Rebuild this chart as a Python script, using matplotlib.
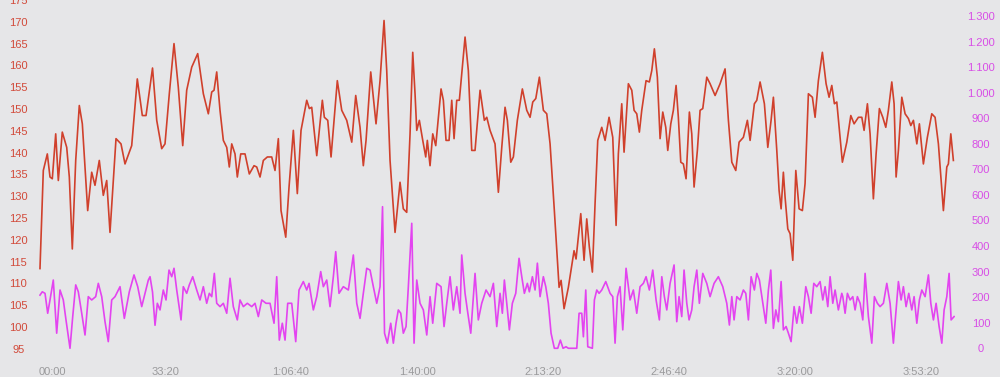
import numpy as np
import matplotlib
matplotlib.use("Agg")
import matplotlib.pyplot as plt
from matplotlib import rcParams

rcParams['font.family'] = ['Liberation Sans', 'DejaVu Sans']

# heart rate (bpm) against elapsed time (minutes)
hr_min = [0.26, 1.14, 2.20, 2.91, 3.52, 4.42, 5.11, 6.16, 7.33, 8.02, 8.81, 9.71, 10.66, 11.46,
          12.88, 13.94, 14.81, 15.95, 17.01, 17.91, 18.78, 20.37, 21.69, 22.75, 24.52, 26.00,
          27.33, 28.31, 30.03, 31.14, 32.46, 33.33, 34.47, 35.71, 36.85, 38.02, 39.07, 40.40,
          41.98, 43.47, 44.79, 45.69, 46.30, 47.01, 47.88, 48.76, 49.66, 50.34, 50.98, 51.85,
          52.46, 53.36, 54.50, 55.63, 56.88, 57.59, 58.47, 59.34, 60.40, 61.56, 62.43, 63.31,
          64.02, 65.27, 66.14, 67.28, 68.33, 69.31, 70.82, 71.51, 72.14, 73.47, 74.95, 75.48,
          76.38, 77.25, 78.91, 80.08, 81.40, 82.73, 83.78, 84.92, 85.79, 86.51, 87.75, 89.15,
          90.21, 91.27, 91.98, 92.86, 94.18, 95.50, 96.37, 97.27, 98.15, 98.86, 99.47, 99.92,
          100.61, 101.51, 102.30, 102.72, 103.44, 104.15, 104.95, 106.35, 106.96, 107.67,
          108.47, 109.18, 109.79, 110.50, 111.19, 112.70, 113.57, 114.47, 115.34, 116.67,
          117.80, 118.44, 119.31, 120.63, 121.51, 122.41, 123.28, 123.89, 124.79, 125.48,
          126.53, 127.86, 129.02, 129.90, 130.61, 131.41, 132.36, 133.42, 134.31, 135.19,
          136.32, 137.57, 138.10, 138.89, 140.03, 141.53, 142.06, 143.31, 144.18, 144.89,
          145.58, 146.38, 147.09, 147.80, 148.86, 149.74, 150.79, 151.77, 152.65, 153.25,
          154.15, 154.76, 155.90, 156.80, 157.41, 158.12, 158.81, 159.44, 160.58, 161.45,
          162.09, 162.78, 163.57, 164.29, 165.00, 165.79, 166.32, 167.12, 167.80, 168.52,
          169.12, 169.76, 170.45, 171.16, 172.04, 172.67, 173.28, 174.15, 174.87, 175.58,
          176.64, 177.51, 178.84, 180.16, 181.48, 182.36, 183.26, 184.31, 185.19, 186.32,
          187.38, 188.10, 189.23, 189.87, 190.74, 191.88, 192.78, 193.65, 194.26, 195.16,
          195.77, 196.30, 196.90, 197.35, 198.07, 198.68, 199.39, 200.19, 201.06, 201.93,
          202.64, 203.52, 204.58, 205.29, 206.16, 207.22, 208.20, 208.99, 209.71, 210.40,
          211.03, 212.51, 213.68, 214.74, 215.61, 216.75, 217.65, 218.25, 219.13, 219.84,
          220.71, 221.43, 222.30, 223.20, 223.99, 224.68, 225.58, 226.19, 226.72, 227.33,
          228.23, 229.10, 229.98, 230.61, 231.30, 232.20, 232.88, 233.94, 234.99, 236.16,
          237.03, 237.91, 239.23, 240.13, 240.55, 241.19, 241.87]
hr_bpm = [113.4, 135.9, 139.7, 134.4, 134.0, 144.3, 133.6, 144.7, 141.2, 134.4, 117.9, 138.2, 150.8, 146.6,
          126.7, 135.5, 132.5, 138.2, 130.2, 133.6, 121.7, 143.2, 142.0, 137.4, 141.6, 156.9,
          148.5, 148.5, 159.4, 147.4, 140.9, 142.0, 153.5, 165.0, 155.0, 141.6, 154.3, 159.6,
          162.7, 153.5, 148.9, 153.9, 154.3, 158.5, 149.7, 142.8, 141.2, 136.7, 142.0, 139.7,
          134.4, 139.7, 139.7, 135.1, 137.0, 136.7, 134.4, 138.2, 139.0, 139.0, 135.9, 143.2,
          126.7, 120.6, 132.1, 145.1, 130.6, 145.1, 152.0, 150.1, 150.4, 139.3, 152.0, 148.1,
          147.4, 139.0, 156.5, 149.7, 147.4, 142.4, 153.1, 145.8, 137.0, 142.8, 158.5, 146.6,
          156.5, 170.3, 158.8, 138.2, 121.7, 133.2, 127.1, 126.3, 144.3, 163.0, 153.5, 145.1,
          147.4, 142.8, 139.0, 142.8, 137.0, 144.3, 141.6, 154.6, 152.0, 142.8,
          142.8, 152.0, 143.2, 152.0, 152.0, 166.5, 158.8, 140.5, 140.5, 154.3,
          147.4, 148.1, 145.1, 142.0, 130.9, 141.2, 150.4, 147.4, 137.8, 139.0,
          147.4, 154.6, 149.7, 148.1, 151.6, 152.4, 157.3, 149.7, 148.9, 142.0,
          126.7, 109.1, 110.7, 104.2, 109.1, 117.5, 115.6, 126.0, 115.3, 124.8,
          118.3, 112.6, 128.3, 142.8, 145.8, 142.8, 148.1, 143.5, 123.3, 139.7,
          151.2, 140.1, 155.8, 154.3, 149.7, 148.9, 144.7, 149.7, 156.5, 156.2,
          158.8, 163.8, 157.3, 143.2, 149.3, 145.8, 140.5, 146.6, 149.7, 155.4,
          148.1, 137.8, 137.4, 134.0, 149.3, 144.3, 132.1, 140.5, 149.7, 150.1,
          157.3, 155.8, 153.1, 155.8, 159.2, 147.4, 137.8, 135.9, 142.4, 143.5,
          147.4, 142.8, 151.2, 152.0, 156.2, 151.2, 141.2, 147.4, 152.7, 140.5,
          131.3, 127.1, 135.5, 129.8, 122.5, 121.4, 115.3, 135.9, 127.1, 126.7,
          132.9, 153.5, 152.7, 148.1, 156.5, 163.0, 155.8, 152.7, 155.4, 151.2,
          151.6, 137.8, 142.4, 148.5, 146.6, 148.1, 148.1, 145.1, 151.2, 144.3,
          129.4, 139.7, 150.1, 148.1, 145.8, 149.7, 156.2, 151.2, 134.4, 140.5,
          152.7, 148.9, 147.8, 146.2, 147.4, 142.0, 146.6, 137.4, 143.5, 148.9,
          148.1, 142.0, 126.7, 136.7, 137.4, 144.3, 138.2]

# power (W) against elapsed time (minutes)
pw_min = [0.26, 0.87, 1.59, 2.30, 2.91, 3.78, 4.68, 5.56, 6.43, 7.14, 8.20, 8.92, 9.71, 10.40,
          11.30, 12.17, 13.04, 13.94, 15.00, 15.69, 16.59, 17.46, 18.33, 19.23, 20.11, 21.43,
          22.57, 23.89, 25.13, 26.11, 27.17, 28.92, 29.37, 30.03, 30.69, 31.30, 32.01, 32.88,
          33.60, 34.39, 35.11, 35.71, 36.43, 37.57, 38.17, 39.07, 39.76, 40.66, 41.72, 42.59,
          43.47, 44.36, 45.05, 45.69, 46.38, 47.01, 47.88, 48.76, 49.66, 50.53, 51.40, 52.46,
          53.17, 54.05, 55.11, 56.27, 57.14, 58.02, 58.92, 60.05, 61.11, 62.17, 62.88, 63.57,
          64.36, 65.08, 65.79, 66.85, 67.91, 68.78, 69.92, 70.82, 71.43, 72.57, 73.47, 74.52,
          75.21, 76.11, 76.98, 77.86, 78.49, 79.36, 80.50, 81.83, 83.15, 84.05, 84.92, 85.79,
          86.69, 87.57, 88.44, 89.34, 90.21, 90.87, 91.40, 92.14, 93.04, 93.73, 94.44, 95.05,
          95.69, 96.37, 97.09, 97.70, 98.60, 99.21, 99.92, 100.79, 101.67, 102.57, 103.44,
          104.15, 105.21, 106.35, 107.14, 107.86, 108.73, 109.60, 110.50, 111.37, 111.82,
          112.70, 113.31, 114.21, 115.34, 116.21, 117.11, 118.25, 119.31, 120.19, 121.08,
          121.96, 122.57, 123.10, 123.73, 124.42, 125.21, 126.11, 126.98, 127.70, 128.39,
          129.18, 129.71, 130.51, 131.22, 131.83, 132.54, 133.41, 134.05, 134.73, 135.45,
          136.32, 137.22, 137.91, 138.62, 139.42, 140.03, 142.25, 142.86, 143.57, 144.00,
          144.63, 145.16, 146.38, 146.91, 147.54, 148.15, 148.86, 149.92, 151.06, 151.77,
          152.38, 153.00, 153.70, 154.42, 155.29, 156.35, 157.22, 158.12, 158.99, 159.87,
          160.58, 161.45, 162.35, 163.23, 164.10, 164.74, 165.42, 166.06, 166.93, 167.99,
          168.70, 169.31, 170.02, 170.63, 171.35, 171.96, 172.67, 173.28, 174.00, 174.68,
          175.58, 176.64, 177.51, 178.57, 179.71, 180.87, 181.93, 182.62, 183.26, 183.86,
          184.58, 185.45, 186.32, 186.96, 187.65, 188.37, 189.23, 189.87, 190.56, 191.35,
          192.25, 192.94, 193.57, 194.26, 194.90, 195.58, 196.30, 196.90, 197.62, 198.23,
          198.94, 199.74, 200.45, 201.14, 201.93, 202.83, 203.52, 204.24, 204.95, 205.74,
          206.61, 207.33, 207.94, 208.65, 209.26, 209.97, 210.58, 211.45, 212.35, 212.62,
          213.23, 213.84, 214.55, 215.26, 215.87, 216.48, 217.20, 217.91, 218.52, 219.39,
          220.29, 220.98, 221.77, 222.48, 223.36, 224.26, 225.13, 226.00, 226.72, 227.33,
          228.04, 228.65, 229.36, 230.07, 230.87, 231.48, 232.20, 232.88, 233.52, 234.39,
          235.27, 235.90, 236.59, 237.30, 238.10, 238.81, 239.42, 240.13, 240.74, 241.27,
          242.06]
pw_watts = [208, 221, 215, 137, 189, 267, 59, 228, 189, 111, 0, 124, 248, 221,
            137, 52, 202, 189, 202, 254, 202, 104, 26, 189, 202, 241,
            117, 221, 287, 241, 163, 267, 280, 220, 90, 176, 150, 228,
            189, 306, 280, 313, 228, 111, 241, 215, 248, 280, 228, 189,
            241, 176, 215, 202, 293, 176, 163, 176, 137, 274, 163, 111,
            189, 163, 176, 163, 176, 124, 189, 176, 176, 98, 280, 32,
            98, 32, 176, 176, 26, 228, 261, 228, 254, 150, 202, 300,
            241, 267, 163, 280, 378, 215, 241, 228, 365, 176, 117, 215,
            313, 306, 241, 176, 241, 554, 59, 20, 98, 20, 98, 150,
            137, 59, 85, 241, 489, 20, 267, 176, 150, 52, 202,
            98, 254, 241, 85, 176, 280, 150, 241, 137, 365,
            215, 150, 59, 293, 111, 176, 228, 202, 254, 85,
            215, 137, 267, 176, 72, 176, 215, 352, 280, 215,
            254, 221, 280, 228, 333, 202, 280, 241, 176, 59,
            0, 0, 32, 0, 6, 0, 0, 137, 137, 45,
            228, 6, 0, 189, 228, 215, 228, 261, 215, 202,
            20, 202, 241, 72, 313, 189, 228, 137, 241, 254,
            280, 228, 306, 189, 111, 280, 202, 150, 254, 326,
            104, 202, 124, 306, 176, 111, 150, 241, 306, 176,
            293, 254, 202, 254, 280, 241, 176, 91, 202, 111,
            202, 189, 228, 215, 111, 280, 228, 293, 267, 189,
            98, 228, 306, 78, 150, 104, 261, 72, 85, 59,
            26, 163, 98, 163, 98, 241, 202, 137, 254, 241,
            261, 189, 241, 163, 280, 176, 228, 150, 215, 202,
            137, 215, 189, 202, 150, 202, 176, 111, 293, 124,
            20, 202, 176, 163, 176, 254, 176, 20, 150, 261,
            189, 241, 163, 215, 150, 202, 98, 189, 228, 202,
            287, 176, 111, 176, 85, 20, 150, 202, 293, 111,
            124]

hr_ticks = list(range(95, 180, 5))
pw_ticks = list(range(0, 1400, 100))
time_ticks_s = [0, 2000, 4000, 6000, 8000, 10000, 12000, 14000]
time_labels = ["00:00", "33:20", "1:06:40", "1:40:00", "2:13:20", "2:46:40", "3:20:00", "3:53:20"]

bg = "#e6e6e8"
hr_color = "#d0402c"
pw_color = "#e344f0"

fig = plt.figure(figsize=(10, 3.77), dpi=100, facecolor=bg)
ax = fig.add_axes([0.039, 1 - 356 / 377, 0.916, 356 / 377])
ax.set_facecolor(bg)
ax2 = ax.twinx()

ax.plot(hr_min, hr_bpm, color=hr_color, linewidth=1.2, zorder=3)
ax2.plot(pw_min, pw_watts, color=pw_color, linewidth=1.2)

ax.set_xlim(0, 242.3)
ax.set_ylim(93.35, 175)
ax2.set_ylim(-30.2, 1362.6)

ax.set_xticks([s / 60 for s in time_ticks_s])
ax.set_xticklabels(time_labels, fontsize=8, color="#9a9a9c")
ax.get_xticklabels()[0].set_horizontalalignment("left")
ax.tick_params(axis="x", length=0, pad=8)

ax.set_yticks(hr_ticks)
ax.set_yticklabels([str(v) for v in hr_ticks], fontsize=8, color="#d24a3a")
for lbl in ax.get_yticklabels():
    lbl.set_horizontalalignment("center")
ax.tick_params(axis="y", length=0, pad=14.8)

ax2.set_yticks(pw_ticks)
ax2.set_yticklabels([f"{v:,}".replace(",", ".") for v in pw_ticks], fontsize=8, color="#d84ee6")
for lbl in ax2.get_yticklabels():
    lbl.set_horizontalalignment("center")
ax2.tick_params(axis="y", length=0, pad=18.7)

for a in (ax, ax2):
    for sp in a.spines.values():
        sp.set_visible(False)

fig.savefig("out.png", dpi=100, facecolor=bg)
